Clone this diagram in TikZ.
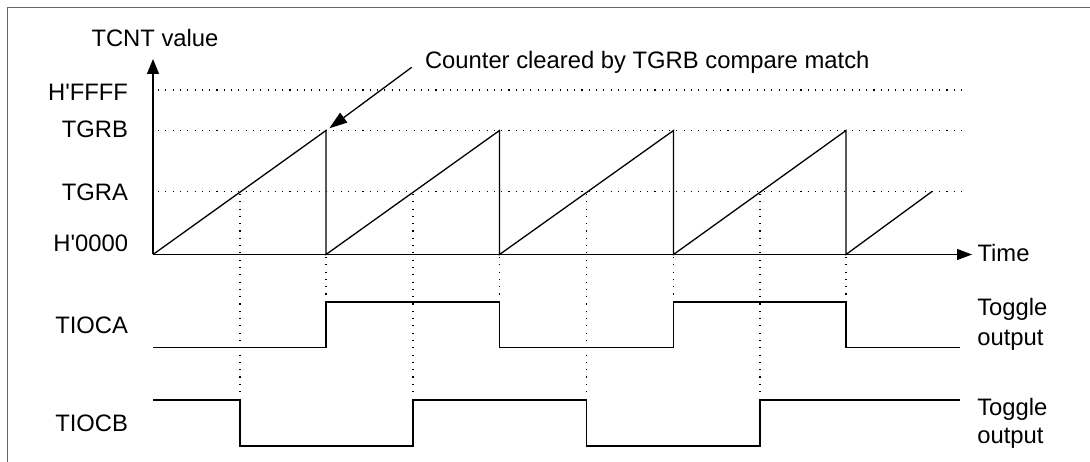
\documentclass[tikz,border=0pt]{standalone}
\usepackage{fontspec}
\setmainfont{Liberation Sans}[Ligatures=TeXOff]
\usetikzlibrary{arrows.meta}
\begin{document}
\begin{tikzpicture}[x=1pt,y=-1pt,
  lbl/.style={font=\fontsize{23.8}{29}\selectfont, inner sep=0pt, outer sep=0pt},
  wave/.style={line width=1.3pt, line join=miter},
  guide/.style={line width=1.1pt, dash pattern=on 1.1pt off 6.2pt},
  frameline/.style={line width=1.2pt, black!60},
  axistip/.style={-{Triangle[length=15pt,width=12pt]}}
]
\useasboundingbox (0,0) rectangle (1090,462);

% frame (only left and top edges visible)
\draw[frameline] (7.5,462) -- (7.5,7.5) -- (1090,7.5);

% reference coordinates
\coordinate (O) at (153,254.5);
\coordinate (yend) at (153,59);
\coordinate (xend) at (972,254.5);

% horizontal dotted guides
\draw[guide] (158,90) -- (962,90);
\draw[guide] (158,130.5) -- (962,130.5);
\draw[guide] (158,191.5) -- (962,191.5);

% vertical dotted guides: compare match B (peaks)
\foreach \p in {326,499.5,673.5,846}
  \draw[guide] (\p,257) -- (\p,300);
% vertical dotted guides: compare match A
\foreach \c in {240,413,586.5,760}
  \draw[guide] (\c,194) -- (\c,398);

% axes
\draw[wave,axistip] (O) -- (yend);
\draw[wave,-{Triangle[length=15pt,width=11pt]}] (O) -- (xend);

% sawtooth counter
\draw[wave] (O) -- (326,130.5) -- (326,254.5) -- (499.5,130.5) -- (499.5,254.5)
  -- (673.5,130.5) -- (673.5,254.5) -- (846,130.5) -- (846,254.5) -- (932,191.5);

% TIOCA
\draw[wave] (153,347.5) -- (326,347.5) -- (326,302) -- (499.5,302) -- (499.5,347.5)
  -- (673.5,347.5) -- (673.5,302) -- (846,302) -- (846,347.5) -- (960,347.5);

% TIOCB
\draw[wave] (153,400) -- (240,400) -- (240,446) -- (413,446) -- (413,400)
  -- (586.5,400) -- (586.5,446) -- (760,446) -- (760,400) -- (960,400);

% labels
\node[lbl, anchor=base west] (tcnt) at (91.5,46.7) {TCNT value};
\node[lbl, anchor=base east] (lffff) at (128,101) {H'FFFF};
\node[lbl, anchor=base east] (ltgrb) at (128,138) {TGRB};
\node[lbl, anchor=base east] (ltgra) at (128,200.7) {TGRA};
\node[lbl, anchor=base east] (l0000) at (128,252) {H'0000};
\node[lbl, anchor=base east] (ltioca) at (128,333.3) {TIOCA};
\node[lbl, anchor=base east] (ltiocb) at (128,431.7) {TIOCB};
\node[lbl, anchor=base west] (ltime) at (977.5,262) {Time};
\node[lbl, anchor=base west] (togA1) at (977.3,316) {Toggle};
\node[lbl, anchor=base west] (togA2) at (977.3,345) {output};
\node[lbl, anchor=base west] (togB1) at (977.3,415) {Toggle};
\node[lbl, anchor=base west] (togB2) at (977.3,443.3) {output};
\node[lbl, anchor=base west] (note) at (425,68.3) {Counter cleared by TGRB compare match};

% annotation arrow
\coordinate (nstart) at (411.7,67.3);
\coordinate (ntip) at (329.3,128.3);
\draw[line width=1.3pt,-{Triangle[length=18pt,width=12pt]}] (nstart) -- (ntip);
\end{tikzpicture}
\end{document}
